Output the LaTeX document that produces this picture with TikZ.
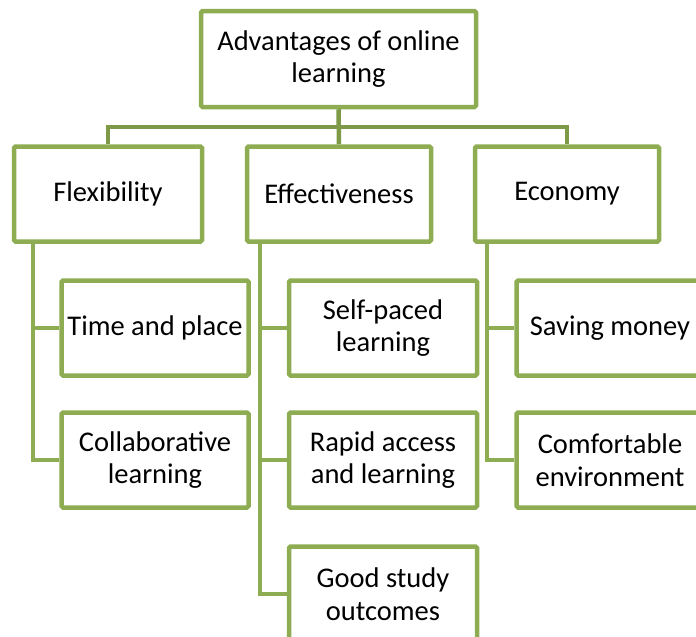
\documentclass[tikz,border=0pt]{standalone}
\usepackage{fontspec}
\setmainfont{Carlito}

\definecolor{boxgreen}{HTML}{8EAC52}
\definecolor{busgreen}{HTML}{7E9A47}

\tikzset{
  topic/.style={draw=boxgreen, line width=4.5pt, rounded corners=1.5pt, fill=white,
    align=center, font=\fontsize{28.5}{32.5}\selectfont, inner sep=0pt},
  link/.style={draw=boxgreen, line width=4.5pt},
  bus/.style={draw=busgreen, line width=4.5pt}
}

\begin{document}
\begin{tikzpicture}[x=1pt, y=-1pt]

\useasboundingbox (0,0) rectangle (696,637);
\clip (0,0) rectangle (696,637);

% Tema principal
\node[topic, minimum width=275pt, minimum height=96pt] (main) at (338.5,59) {Advantages of online\\learning};

% Primer nivel
\node[topic, minimum width=188pt, minimum height=95pt] (flex) at (108,194) {Flexibility};
\node[topic, minimum width=184pt, minimum height=95pt] (effect) at (339,194) {Effectiveness};
\node[topic, minimum width=184pt, minimum height=95pt] (econ) at (567,194) {Economy};

% Segundo nivel, Flexibility
\node[topic, minimum width=187pt, minimum height=95pt] (time) at (155,328) {Time and place};
\node[topic, minimum width=187pt, minimum height=95pt] (collab) at (155,460) {Collaborative\\learning};

% Segundo nivel, Effectiveness
\node[topic, minimum width=188pt, minimum height=95pt] (selfpaced) at (383,328) {Self-paced\\learning};
\node[topic, minimum width=188pt, minimum height=95pt] (rapid) at (383,460) {Rapid access\\and learning};
\node[topic, minimum width=188pt, minimum height=95pt] (good) at (383,594) {Good study\\outcomes};

% Segundo nivel, Economy
\node[topic, minimum width=187pt, minimum height=95pt] (saving) at (610,328) {Saving money};
\node[topic, minimum width=187pt, minimum height=95pt] (comfort) at (610,460) {Comfortable\\environment};

% Barra de conexion superior
\coordinate (busmid) at (338.5,127);
\draw[bus] (main.south) -- (effect.north);
\draw[bus] (flex.north) |- (busmid) -| (econ.north);

% Ramas hacia el segundo nivel
\draw[link] ([xshift=21pt]flex.south west) |- (time.west);
\draw[link] ([xshift=21pt]flex.south west) |- (collab.west);
\draw[link] ([xshift=15pt]effect.south west) |- (selfpaced.west);
\draw[link] ([xshift=15pt]effect.south west) |- (rapid.west);
\draw[link] ([xshift=15pt]effect.south west) |- (good.west);
\draw[link] ([xshift=14pt]econ.south west) |- (saving.west);
\draw[link] ([xshift=14pt]econ.south west) |- (comfort.west);

\end{tikzpicture}
\end{document}
